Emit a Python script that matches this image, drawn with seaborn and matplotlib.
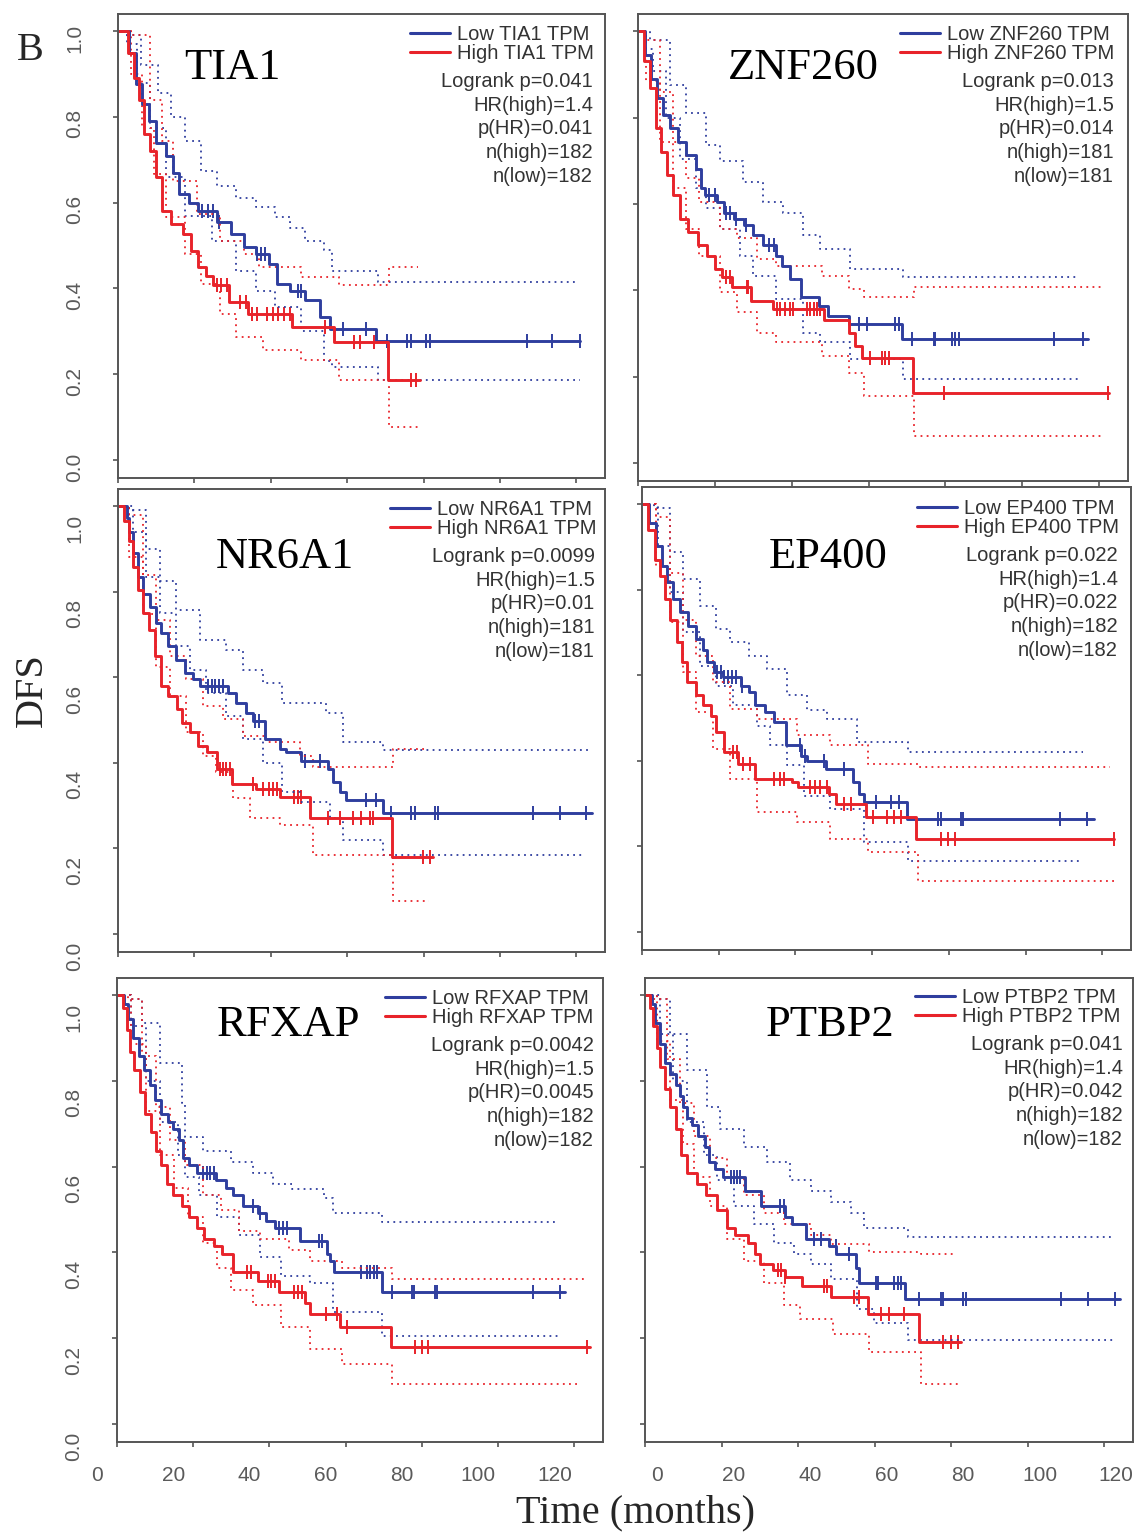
import numpy as np
import pandas as pd
import matplotlib
matplotlib.use("Agg")
import matplotlib.pyplot as plt
import seaborn as sns
from matplotlib.lines import Line2D
from matplotlib.transforms import ScaledTranslation

# ---------------- data ----------------
genes = ["TIA1", "ZNF260", "NR6A1", "EP400", "RFXAP", "PTBP2"]
logrank_p = ["0.041", "0.013", "0.0099", "0.022", "0.0042", "0.041"]
hr_high = ["1.4", "1.5", "1.5", "1.4", "1.5", "1.4"]
p_hr = ["0.041", "0.014", "0.01", "0.022", "0.0045", "0.042"]
n_high = [182, 181, 181, 182, 182, 182]
n_low = [182, 181, 181, 182, 182, 182]
x_ticks = [0, 20, 40, 60, 80, 100, 120]
y_ticks = [0.0, 0.2, 0.4, 0.6, 0.8, 1.0]
y_tick_labels = ["0.0", "0.2", "0.4", "0.6", "0.8", "1.0"]

# TIA1
TIA1_low_t = [0, 3.0, 4.8, 6.3, 8, 10, 12.5, 14.5, 16, 18.5, 21, 26, 29.5, 33, 36, 39.5, 41.5, 45, 49, 53, 55.5, 67.5, 121]
TIA1_low_s = [1, .95, .876, .83, .79, .74, .71, .67, .62, .60, .58, .554, .527, .496, .48, .457, .41, .395, .372, .333, .306, .278, .278]
TIA1_low_c = [22, 23.5, 25, 26.5, 36.5, 37.5, 38.5, 47, 48, 58.8, 64.9, 70.5, 75.6, 76.6, 80.7, 81.7, 107, 113.7, 120.9]
TIA1_high_t = [0, 2.5, 4.2, 5.5, 6.8, 8.4, 10, 11.5, 14, 17, 19, 21, 23, 25, 29, 34, 45.5, 56.5, 70.8, 79]
TIA1_high_s = [1, .95, .89, .84, .76, .72, .66, .58, .55, .527, .488, .45, .43, .407, .368, .341, .31, .275, .186, .186]
TIA1_high_c = [26, 27, 28.5, 32, 33.5, 35, 36.5, 39, 40.5, 42, 43.5, 45, 54.2, 61.9, 63.4, 67, 76.6, 78.1]
TIA1_low_up_t = [0, 2.3, 6, 10.5, 14, 17.6, 21.7, 26, 30.8, 36, 41, 45, 49, 54, 56, 68, 120]
TIA1_low_up_s = [1, .99, .92, .855, .8, .744, .674, .64, .61, .59, .566, .54, .51, .49, .44, .415, .415]
TIA1_low_lo_t = [0, 2.3, 5, 8.4, 12.5, 17.6, 24.7, 30.8, 36, 41, 48, 54, 56, 68, 121]
TIA1_low_lo_s = [1, .97, .88, .775, .66, .57, .51, .44, .395, .357, .30, .23, .217, .186, .186]
TIA1_high_up_t = [0, 3.4, 8.4, 11.5, 14.5, 20.6, 26.8, 33, 37, 48, 57.8, 71, 78.6]
TIA1_high_up_s = [1, .99, .84, .744, .65, .574, .51, .48, .45, .426, .407, .45, .45]
TIA1_high_lo_t = [0, 3.4, 6.4, 9.5, 12.5, 17.6, 21.7, 26.8, 30.8, 38, 48, 57.8, 71, 78.6]
TIA1_high_lo_s = [1, .9, .775, .667, .566, .48, .41, .34, .287, .256, .233, .186, .078, .078]

# ZNF260
ZNF260_low_t = [0, 1.8, 3.5, 4.9, 6.5, 8.2, 10.3, 12.5, 15, 16.3, 17.5, 20.5, 22.5, 25, 27.5, 29.8, 32.5, 35.8, 37.5, 39.5, 42.5, 47.2, 49.5, 55, 68.8, 117]
ZNF260_low_s = [1, .946, .89, .845, .806, .775, .744, .713, .682, .636, .62, .605, .58, .566, .55, .527, .504, .48, .457, .426, .384, .364, .341, .322, .287, .287]
ZNF260_low_c = [18.5, 20, 23, 24, 25.5, 28, 34, 35.5, 57.4, 59.6, 67, 67.8, 71.3, 77, 77.4, 81.7, 82.6, 83.5, 108.3, 115.7]
ZNF260_high_t = [0, 1.5, 3.2, 4.6, 5.9, 7.5, 9.2, 10.8, 13, 15.5, 18, 20, 21.8, 24.5, 29.5, 35, 48.5, 55, 56.5, 58.3, 71.6, 122.6]
ZNF260_high_s = [1, .93, .868, .775, .72, .667, .62, .566, .535, .504, .48, .45, .43, .407, .376, .357, .33, .30, .27, .244, .163, .163]
ZNF260_high_c = [23, 23.9, 28.3, 28.7, 36.1, 37, 38.3, 39.6, 40.4, 43.9, 44.8, 45.7, 46.5, 47.4, 60.4, 63.5, 64.3, 65.2, 79.6, 122.2]
ZNF260_low_up_t = [0, 3, 8.3, 12.6, 17.8, 21.3, 27.4, 32.6, 37.8, 43, 47.4, 55.2, 69, 114]
ZNF260_low_up_s = [1, .98, .876, .81, .736, .70, .65, .605, .58, .527, .496, .45, .43, .43]
ZNF260_low_lo_t = [0, 2, 4, 7.4, 10.9, 15.2, 17.8, 21.3, 26.5, 30, 36, 43, 47.4, 55.2, 69, 115]
ZNF260_low_lo_s = [1, .96, .907, .80, .705, .636, .59, .543, .48, .434, .38, .30, .28, .24, .194, .194]
ZNF260_high_up_t = [0, 2.2, 5.7, 9.1, 12.6, 16, 21.3, 25.7, 31, 36, 48, 55, 58.7, 71.7, 121]
ZNF260_high_up_s = [1, .98, .86, .744, .66, .605, .543, .52, .473, .457, .434, .403, .384, .407, .407]
ZNF260_high_lo_t = [0, 2.2, 5.7, 9.1, 12.6, 16, 21.3, 25.7, 31, 36, 48, 55, 58.7, 71.7, 121]
ZNF260_high_lo_s = [1, .884, .744, .636, .543, .48, .395, .349, .302, .28, .248, .209, .155, .062, .062]

# NR6A1
NR6A1_low_t = [0, 2.3, 3, 3.9, 5.2, 6.5, 8.3, 10, 11.3, 13.1, 15.3, 17.5, 19.6, 21.4, 28.8, 31, 33.6, 35.3, 38.4, 42.3, 44, 48, 55, 56.3, 58, 59.8, 69.4, 124]
NR6A1_low_s = [1, .973, .94, .89, .834, .795, .764, .726, .703, .672, .64, .61, .595, .58, .564, .54, .517, .498, .456, .432, .425, .405, .386, .355, .332, .313, .282, .282]
NR6A1_low_c = [23.5, 24.5, 25.5, 26.5, 27.5, 35.8, 36.8, 48.9, 52.8, 65, 67.6, 71.6, 76.8, 77.7, 82.9, 83.8, 108.6, 115.6, 122.6]
NR6A1_high_t = [0, 1.5, 2.9, 4, 5.2, 6.5, 8.2, 9.6, 11.3, 13, 15.5, 16.7, 18.8, 21, 23.2, 25.8, 29.8, 36, 42.5, 50.3, 71.8, 82.5]
NR6A1_high_s = [1, .965, .919, .857, .803, .75, .71, .649, .58, .556, .525, .494, .471, .44, .425, .386, .351, .34, .32, .27, .181, .181]
NR6A1_high_c = [26.8, 27.6, 28.4, 29.2, 35.3, 38, 39.5, 40.5, 41.5, 46, 47, 48, 55, 58, 61.5, 63.7, 65.9, 66.8, 79.8, 81.6]
NR6A1_low_up_t = [0, 3, 7.4, 10.9, 15.3, 21.4, 28.4, 32.7, 38, 43, 54.5, 59, 69.4, 123]
NR6A1_low_up_s = [1, .99, .90, .826, .757, .687, .664, .618, .587, .54, .517, .448, .429, .429]
NR6A1_low_lo_t = [0, 3.9, 7.4, 10.9, 15.3, 18.8, 23, 28.4, 32.7, 38, 43, 47.6, 55.4, 59, 69.4, 122]
NR6A1_low_lo_s = [1, .94, .834, .75, .672, .618, .564, .51, .456, .40, .332, .309, .27, .22, .185, .185]
NR6A1_high_up_t = [0, 3, 6.5, 10, 13.5, 17.9, 22.2, 27.5, 32.7, 38.8, 47.6, 51, 72, 80.7]
NR6A1_high_up_s = [1, .98, .84, .734, .649, .595, .533, .502, .463, .448, .417, .39, .432, .432]
NR6A1_high_lo_t = [0, 3, 6.5, 10, 13.5, 17.9, 22.2, 25.7, 30, 34.5, 42.3, 51, 72, 81.5]
NR6A1_high_lo_s = [1, .88, .749, .625, .556, .471, .417, .378, .317, .27, .255, .185, .077, .077]

# EP400
EP400_low_t = [0, 1.9, 3.6, 5.2, 6.5, 8.2, 10, 12, 14.2, 15.8, 16.9, 18.8, 21, 25.8, 28, 29.5, 32, 34.5, 37.5, 41.5, 43, 48, 55, 56.6, 57.8, 69, 117.8]
EP400_low_s = [1, .957, .903, .856, .817, .778, .747, .716, .685, .658, .63, .607, .595, .576, .56, .53, .514, .49, .436, .412, .40, .381, .35, .323, .304, .265, .265]
EP400_low_c = [19.5, 20.5, 21.5, 22.5, 23.5, 24.5, 26, 41.3, 42.6, 47.4, 52.7, 61, 64.9, 67.1, 77.2, 78, 83.3, 83.7, 109, 116.1]
EP400_high_t = [0, 1.5, 3.3, 4.7, 6, 7.3, 9.2, 10.5, 11.8, 14, 15.8, 17.9, 19.4, 21.5, 25, 29.4, 39, 40.8, 48.7, 50.5, 58.3, 71.5, 123]
EP400_high_s = [1, .94, .87, .833, .778, .73, .677, .63, .584, .553, .53, .506, .467, .42, .393, .358, .35, .339, .323, .30, .268, .218, .218]
EP400_high_c = [23.8, 24.7, 26.4, 28.2, 34.3, 36, 36.9, 43.9, 45.2, 46.5, 48.3, 52.7, 54.4, 60.1, 64, 65.8, 67.5, 78, 79.8, 81.5, 123]
EP400_low_up_t = [0, 3.2, 7.2, 10.7, 15, 19.4, 23, 28, 32.5, 37.8, 43, 48.3, 56, 69.3, 115]
EP400_low_up_s = [1, .99, .887, .825, .763, .708, .677, .646, .615, .553, .52, .498, .444, .42, .42]
EP400_low_lo_t = [0, 4.1, 7.2, 10.7, 15, 19.4, 23.8, 29.9, 33.4, 37.8, 42.2, 49, 58, 69.3, 115]
EP400_low_lo_s = [1, .903, .794, .70, .622, .576, .53, .482, .436, .39, .319, .288, .21, .167, .167]
EP400_high_up_t = [0, 3.7, 7.2, 10.7, 14.2, 18.5, 23, 29.9, 40.4, 49, 58.8, 71.9, 122]
EP400_high_up_s = [1, .97, .84, .73, .646, .584, .521, .498, .46, .436, .393, .385, .385]
EP400_high_lo_t = [0, 3.7, 7.2, 10.7, 14.2, 18.5, 23, 29.9, 40.4, 49, 58.8, 71.9, 123]
EP400_high_lo_s = [1, .855, .724, .607, .514, .428, .358, .28, .257, .218, .187, .12, .12]

# RFXAP
RFXAP_low_t = [0, 1.9, 2.8, 4.2, 5.7, 7.2, 8.6, 10, 11.5, 13.3, 14.8, 16.3, 17.3, 19, 21, 26, 28.5, 30.5, 33, 37, 39, 41.5, 48, 55, 56, 57, 69.4, 117.6]
RFXAP_low_s = [1, .979, .944, .90, .859, .825, .79, .756, .722, .705, .688, .662, .62, .603, .585, .568, .551, .534, .509, .491, .474, .457, .427, .397, .38, .355, .308, .308]
RFXAP_low_c = [22.5, 23.5, 24.5, 25.5, 35.6, 37.5, 42.5, 43.5, 44.5, 53, 53.9, 64, 65.5, 66.5, 67.5, 68.3, 72.2, 77.3, 77.8, 83.4, 83.9, 109.2, 116.2]
RFXAP_high_t = [0, 1.5, 2.5, 3.5, 4.5, 6, 7.4, 8.8, 10.2, 11.6, 13, 14.8, 17, 19, 21, 22.8, 25.5, 27.5, 30.5, 37, 42.5, 49.2, 50.7, 58.6, 72, 124]
RFXAP_high_s = [1, .97, .919, .868, .825, .774, .722, .68, .637, .603, .56, .534, .509, .483, .457, .432, .415, .397, .355, .333, .308, .282, .256, .226, .179, .179]
RFXAP_high_c = [34.2, 35.1, 39.5, 40.5, 41.5, 46.5, 47.5, 48.5, 54.8, 57.6, 60.4, 78.3, 80.1, 81.5, 123.2]
RFXAP_low_up_t = [0, 3.7, 6.6, 11.2, 17, 17.8, 22.5, 30, 35.6, 41, 46, 54.4, 56.7, 69.4, 115.7]
RFXAP_low_up_s = [1, .99, .936, .842, .748, .67, .637, .611, .585, .56, .547, .526, .491, .47, .47]
RFXAP_low_lo_t = [0, 3.7, 7.5, 11.2, 16, 17.8, 21.6, 26.2, 31.9, 37.5, 43, 50.6, 56.7, 69.4, 115.7]
RFXAP_low_lo_s = [1, .927, .80, .705, .628, .577, .534, .483, .44, .389, .346, .329, .26, .205, .205]
RFXAP_high_up_t = [0, 2.8, 6.6, 10.3, 14, 17.8, 22.5, 27.2, 31.9, 37.5, 45, 50.6, 59, 72.2, 123.2]
RFXAP_high_up_s = [1, .99, .859, .74, .662, .603, .534, .50, .449, .432, .406, .38, .363, .338, .338]
RFXAP_high_lo_t = [0, 3.7, 7.5, 11.2, 15, 18.7, 22.5, 26.2, 30, 35.6, 43, 50.6, 59, 72.2, 121.8]
RFXAP_high_lo_s = [1, .885, .731, .628, .551, .483, .423, .363, .312, .278, .226, .175, .141, .094, .094]

# PTBP2
PTBP2_low_t = [0, 1.7, 2.6, 4, 5.3, 6.6, 8, 9.1, 10, 11, 12.4, 13.8, 15.6, 16.8, 18.3, 20.5, 26, 30.3, 36.5, 38.5, 42, 48, 50, 55, 56, 68, 124]
PTBP2_low_s = [1, .979, .936, .885, .842, .816, .79, .765, .739, .714, .697, .671, .645, .611, .594, .577, .543, .509, .483, .466, .432, .415, .397, .363, .329, .291, .291]
PTBP2_low_c = [22.5, 23.3, 24, 24.8, 35.4, 36.3, 44.1, 45.9, 49.8, 53.3, 60.3, 60.8, 65.1, 66, 66.9, 71.7, 77.4, 77.8, 83, 83.9, 108.8, 115.8, 122.8]
PTBP2_high_t = [0, 1.3, 2.2, 3.1, 4, 5.3, 6.6, 8, 9.4, 11, 13.5, 16, 18.8, 21.3, 23.4, 26.8, 28.7, 30, 33.5, 36.5, 41, 48.5, 58.2, 71.7, 82.6]
PTBP2_high_s = [1, .97, .927, .876, .833, .782, .739, .688, .628, .585, .56, .534, .50, .457, .44, .423, .397, .372, .359, .342, .321, .295, .256, .192, .192]
PTBP2_high_c = [34.7, 35.6, 36.5, 46.8, 47.6, 54.6, 55.9, 61.6, 63.8, 67.7, 77.8, 80, 81.7]
PTBP2_low_up_t = [0, 3.1, 6.6, 10.9, 16.2, 19.7, 25.8, 31.9, 38, 43.3, 48.5, 53.8, 57.3, 68.6, 122]
PTBP2_low_up_s = [1, .99, .91, .825, .74, .688, .645, .611, .568, .543, .517, .491, .457, .436, .436]
PTBP2_low_lo_t = [0, 3.9, 7.4, 10.9, 15.3, 18.8, 23.2, 28.5, 33.7, 39, 43.3, 48.5, 55.5, 59.9, 68.6, 122.8]
PTBP2_low_lo_s = [1, .91, .80, .705, .628, .568, .509, .466, .423, .397, .372, .338, .269, .235, .197, .197]
PTBP2_high_up_t = [0, 2.2, 5.7, 9.2, 12.7, 17, 21.4, 25.8, 31, 36.3, 43.3, 48.5, 58.6, 72.1, 80.9]
PTBP2_high_up_s = [1, .99, .85, .748, .671, .62, .577, .534, .491, .466, .44, .419, .402, .397, .397]
PTBP2_high_lo_t = [0, 3.1, 6.6, 10, 12.7, 17, 21.4, 25.8, 31, 36.3, 40.6, 49, 58.6, 72.1, 81.7]
PTBP2_high_lo_s = [1, .893, .756, .654, .577, .509, .432, .38, .329, .278, .244, .209, .167, .094, .094]

# ---------------- style / layout ----------------
W, H = 1134, 1536
BLUE = "#2f3e9e"
RED = "#e8232a"
FRAME = "#555555"
TICKC = "#5a5a5a"
TEXTC = "#333333"

sns.set_style("white")
plt.rcParams["font.family"] = ["Liberation Sans", "DejaVu Sans"]
SERIF = ["Liberation Serif", "DejaVu Serif"]

fig = plt.figure(figsize=(W / 100, H / 100), dpi=100)
fig.patch.set_facecolor("white")

# panel boxes in pixels (x0, y0, x1, y1)
boxes = [(118, 14, 605, 478), (638, 14, 1128, 481),
         (118, 489, 605, 952), (642, 487, 1131, 950),
         (117, 978, 603, 1442), (645, 978, 1133, 1442)]
# gene label centres, legend handle start / first row, stats right edge / first row
name_pos = [(232, 68), (803, 68), (285, 557), (828, 557), (288, 1025), (830, 1025)]
leg_pos = [(410, 36), (900, 36), (390, 511), (917, 510), (385, 1000), (915, 999)]
stat_pos = [(593, 80), (1114, 80), (595, 555), (1118, 554), (594, 1044), (1123, 1043)]
ylab_dy = [7, None, 22, None, 22, None]
xlab_dx = [None, None, None, None, -20, 12]

series = {}
for g in genes:
    series[g] = dict(
        low=(globals()[g + "_low_t"], globals()[g + "_low_s"], globals()[g + "_low_c"]),
        high=(globals()[g + "_high_t"], globals()[g + "_high_s"], globals()[g + "_high_c"]),
        ci=[(globals()[g + "_low_up_t"], globals()[g + "_low_up_s"], BLUE),
            (globals()[g + "_low_lo_t"], globals()[g + "_low_lo_s"], BLUE),
            (globals()[g + "_high_up_t"], globals()[g + "_high_up_s"], RED),
            (globals()[g + "_high_lo_t"], globals()[g + "_high_lo_s"], RED)])


def fx(px):
    return px / W


def fy(py):
    return 1 - py / H


def step_val(t, s, ct):
    t = np.asarray(t)
    s = np.asarray(s)
    idx = np.searchsorted(t, np.asarray(ct), side="right") - 1
    return s[np.clip(idx, 0, len(s) - 1)]


for i, g in enumerate(genes):
    x0, y0, x1, y1 = boxes[i]
    ax = fig.add_axes([fx(x0), fy(y1), (x1 - x0) / W, (y1 - y0) / H])
    d = series[g]

    # confidence bands (dotted)
    for (t, s, c) in d["ci"]:
        df = pd.DataFrame({"t": t, "s": s})
        sns.lineplot(data=df, x="t", y="s", ax=ax, color=c, linewidth=1.3,
                     linestyle=(0, (1, 2.4)), drawstyle="steps-post",
                     estimator=None, sort=False, errorbar=None, legend=False)
    # survival estimates
    for key, c in (("low", BLUE), ("high", RED)):
        t, s, ct = d[key]
        df = pd.DataFrame({"t": t, "s": s})
        sns.lineplot(data=df, x="t", y="s", ax=ax, color=c, linewidth=2.1,
                     drawstyle="steps-post", estimator=None, sort=False,
                     errorbar=None, legend=False)
        cdf = pd.DataFrame({"t": ct, "s": step_val(t, s, ct)})
        sns.scatterplot(data=cdf, x="t", y="s", ax=ax, marker="|", s=110,
                        color=c, linewidth=1.4, legend=False)

    ax.set_xlim(0, 127.5)
    ax.set_ylim(-0.042, 1.04)
    ax.set_xlabel("")
    ax.set_ylabel("")
    ax.set_xticks(x_ticks)
    ax.set_yticks(y_ticks)
    for sp in ax.spines.values():
        sp.set_visible(True)
        sp.set_color(FRAME)
        sp.set_linewidth(1.4)
    ax.tick_params(axis="both", direction="out", length=3.5, width=1.2,
                   color=FRAME, labelcolor=TICKC, labelsize=15,
                   bottom=True, left=True, top=False, right=False)
    ax.tick_params(axis="y", pad=21)
    ax.tick_params(axis="x", pad=14)

    left_col = (i % 2 == 0)
    bottom_row = (i >= 4)
    if left_col:
        ax.set_yticklabels(y_tick_labels, rotation=90, va="center")
        off = ScaledTranslation(0, -ylab_dy[i] / 100, fig.dpi_scale_trans)
        for lab in ax.get_yticklabels():
            lab.set_transform(lab.get_transform() + off)
    else:
        ax.tick_params(axis="y", labelleft=False)
    if bottom_row:
        ax.set_xticklabels([str(v) for v in x_ticks])
        off = ScaledTranslation(xlab_dx[i] / 100, 0, fig.dpi_scale_trans)
        for lab in ax.get_xticklabels():
            lab.set_transform(lab.get_transform() + off)
    else:
        ax.tick_params(axis="x", labelbottom=False)

    # legend
    handles = [Line2D([], [], color=BLUE, lw=2.2), Line2D([], [], color=RED, lw=2.2)]
    lx, ly = leg_pos[i]
    ax.legend(handles, [f"Low {g} TPM", f"High {g} TPM"], loc="upper left",
              bbox_to_anchor=(fx(lx), fy(ly - 11)), bbox_transform=fig.transFigure,
              frameon=False, fontsize=14.5, handlelength=2.0, handletextpad=0.35,
              labelspacing=0.0, borderpad=0, borderaxespad=0, labelcolor=TEXTC)

    sx, sy = stat_pos[i]
    stats = (f"Logrank p={logrank_p[i]}\nHR(high)={hr_high[i]}\np(HR)={p_hr[i]}\n"
             f"n(high)={n_high[i]}\nn(low)={n_low[i]}")
    fig.text(fx(sx), fy(sy - 8), stats, ha="right", va="top", fontsize=14.5,
             color=TEXTC, linespacing=1.31, multialignment="right")

    nx, ny = name_pos[i]
    fig.text(fx(nx), fy(ny), g, ha="center", va="center", fontsize=32,
             family=SERIF, color="black")

fig.text(fx(30), fy(50), "B", ha="center", va="center", fontsize=29, family=SERIF)
fig.text(fx(32), fy(690), "DFS", ha="center", va="center", fontsize=29,
         family=SERIF, rotation=90)
fig.text(fx(635), fy(1513), "Time (months)", ha="center", va="center",
         fontsize=29, family=SERIF)

fig.savefig("out.png", dpi=100, facecolor="white")
